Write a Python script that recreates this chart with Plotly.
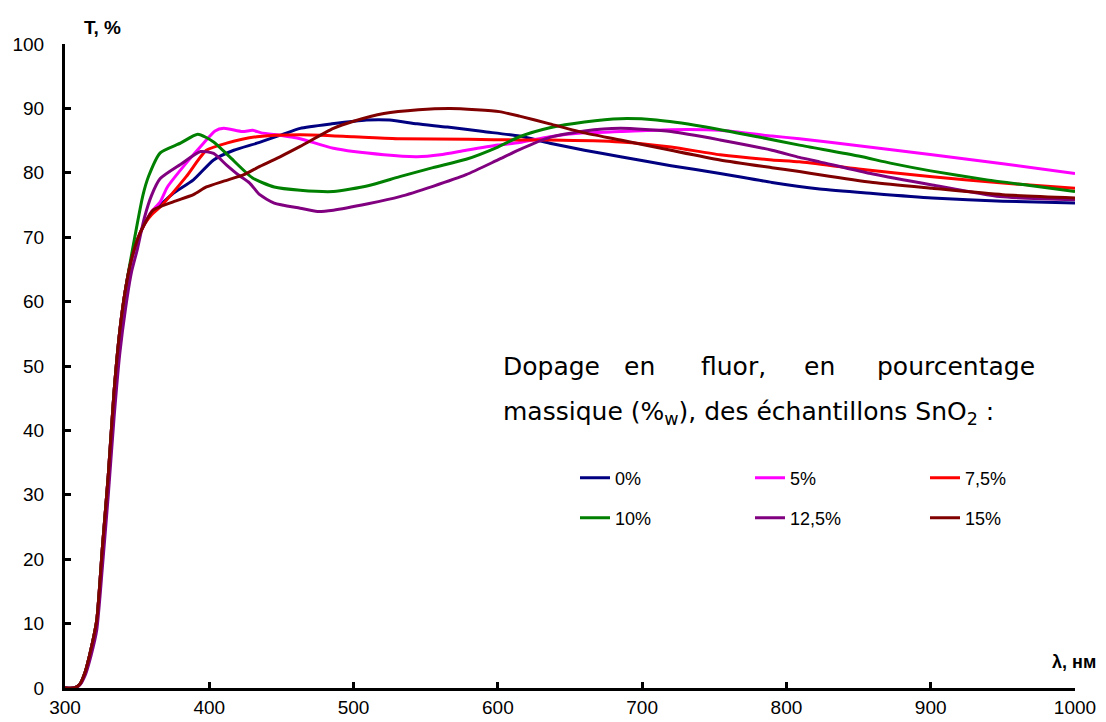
import plotly.graph_objects as go

# ---- data (wavelength nm, transmittance %) ----
rise_wl = [300, 306, 310, 314, 318, 322, 326, 330, 334, 338, 342, 346, 350]
rise_T = [0, 0, 0.5, 2.5, 6, 10.5, 22, 33, 46, 55.5, 62, 66.5, 69.5]

wl_0 = [355, 360, 366, 375, 389, 403, 417, 433, 450, 463, 485, 509, 525, 544, 565, 590, 615, 636,
        660, 685, 720, 754, 790, 823, 860, 901, 950, 1000]
T_0 = [72, 73.8, 75, 76.8, 78.9, 82, 83.5, 84.6, 85.9, 86.9, 87.6, 88.2, 88.2, 87.6, 87.1, 86.4, 85.7, 84.6,
       83.5, 82.5, 81.1, 79.9, 78.5, 77.5, 76.8, 76.1, 75.6, 75.3]

wl_5 = [355, 360, 366, 371, 384, 396, 404, 410, 423, 430, 436, 450, 463, 486, 521, 544, 560, 578, 600,
        615, 636, 660, 685, 720, 754, 790, 809, 850, 901, 950, 1000]
T_5 = [72, 74, 75.5, 77.8, 81.5, 84.6, 86.5, 86.9, 86.4, 86.6, 86.2, 85.8, 85.3, 83.8, 82.8, 82.5, 82.8, 83.5, 84.3,
       84.7, 85.6, 86.2, 86.4, 86.7, 86.6, 85.7, 85.3, 84.2, 82.8, 81.4, 79.9]

wl_75 = [355, 360, 366, 384, 398, 412, 433, 463, 500, 532, 580, 615, 636, 685, 720, 754, 790, 809, 850,
         901, 950, 1000]
T_75 = [72, 73.5, 74.7, 79.4, 83.5, 84.6, 85.6, 85.9, 85.6, 85.3, 85.2, 85.1, 85.1, 84.8, 84.0, 82.8, 82.0, 81.7, 80.6,
        79.4, 78.4, 77.6]

wl_10 = [354, 358, 366, 380, 392, 403, 414, 430, 445, 463, 486, 510, 532, 555, 578, 600, 615, 636, 660, 685,
         710, 742, 780, 809, 850, 872, 900, 939, 970, 1000]
T_10 = [76.5, 79.5, 83.1, 84.6, 86.0, 84.8, 82.5, 79.2, 77.8, 77.3, 77.1, 78.0, 79.4, 80.8, 82.1, 84.0, 85.6, 87.0,
        87.9, 88.4, 88.2, 87.2, 85.6, 84.3, 82.6, 81.5, 80.3, 78.9, 78.0, 77.1]

wl_125 = [355, 360, 366, 380, 394, 403, 412, 420, 428, 435, 445, 463, 475, 486, 510, 532, 555, 578, 600, 615,
          636, 660, 685, 720, 754, 790, 809, 823, 860, 901, 948, 1000]
T_125 = [73, 76.5, 79.1, 81.3, 83.3, 83.0, 81.2, 79.7, 78.4, 76.6, 75.3, 74.5, 74.0, 74.2, 75.2, 76.3, 77.9, 79.7, 82.0,
         83.6, 85.5, 86.5, 86.9, 86.4, 85.1, 83.5, 82.4, 81.7, 79.8, 78.1, 76.3, 75.8]
rise_T_125 = [0, 0, 0.4, 2, 5, 9, 19, 30, 42, 52, 59, 64.5, 68]

wl_15 = [355, 361, 375, 389, 398, 410, 424, 435, 450, 463, 486, 500, 521, 545, 567, 585, 601, 615, 636, 660,
         685, 720, 754, 790, 809, 823, 860, 901, 950, 1000]
T_15 = [72, 74.2, 75.5, 76.6, 77.8, 78.7, 79.7, 81.0, 82.6, 84.1, 86.9, 88.0, 89.2, 89.8, 90.0, 89.8, 89.5, 88.8,
        87.6, 86.2, 85.1, 83.5, 82.0, 80.8, 80.2, 79.7, 78.5, 77.6, 76.6, 76.1]

series_names = ["0%", "5%", "7,5%", "10%", "12,5%", "15%"]
series_colors = ["#000080", "#FF00FF", "#FF0000", "#008000", "#800080", "#800000"]
series_wl = [wl_0, wl_5, wl_75, wl_10, wl_125, wl_15]
series_T = [T_0, T_5, T_75, T_10, T_125, T_15]
series_rise = [rise_T, rise_T, rise_T, rise_T[:-2], rise_T_125, rise_T]

x_ticks = [300, 400, 500, 600, 700, 800, 900, 1000]
y_ticks = [0, 10, 20, 30, 40, 50, 60, 70, 80, 90, 100]

# ---- figure ----
# page body has an 8px margin; the figure is sized so it fits the 1106x722 window
OFF = 8
W, H = 1106 - OFF, 722 - OFF
ml, mr, mt, mb = 65 - OFF, 31, 44 - OFF, 34
pw, ph = W - ml - mr, H - mt - mb

def px_x(p):  # window pixel -> paper fraction
    return (p - OFF - ml) / pw

def px_y(p):
    return (H - mb - (p - OFF)) / ph

fig = go.Figure()
for i, (name, col, wl, T, rT) in enumerate(zip(series_names, series_colors, series_wl, series_T, series_rise)):
    xs = rise_wl[:len(rT)] + wl
    ys = rT + T
    fig.add_trace(go.Scatter(
        x=xs, y=ys, mode="lines", name=name,
        line=dict(color=col, width=3, shape="spline", smoothing=0.6),
        legend="legend" if i < 3 else "legend2",
    ))

legend_common = dict(
    orientation="h", entrywidth=130, entrywidthmode="pixels",
    font=dict(family="Liberation Sans, Arial", size=18, color="#000"),
    bgcolor="rgba(0,0,0,0)", borderwidth=0, itemwidth=30,
    xanchor="left", yanchor="middle", tracegroupgap=0,
)

fig.update_layout(
    width=W, height=H,
    margin=dict(l=ml, r=mr, t=mt, b=mb, autoexpand=False),
    paper_bgcolor="white", plot_bgcolor="white",
    showlegend=True,
    legend=dict(x=px_x(575), y=px_y(478), **legend_common),
    legend2=dict(x=px_x(575), y=px_y(518), **legend_common),
    xaxis=dict(
        range=[300, 1000], tickvals=x_ticks, ticktext=[str(v) for v in x_ticks],
        showgrid=False, zeroline=False, showline=True, linecolor="black", linewidth=3,
        ticks="inside", ticklen=6, tickwidth=3, tickcolor="black", automargin=False,
        tickfont=dict(family="Liberation Sans, Arial", size=19, color="black"),
    ),
    yaxis=dict(
        range=[0, 100], tickvals=y_ticks, ticktext=[str(v) for v in y_ticks],
        showgrid=False, zeroline=False, showline=True, linecolor="black", linewidth=3,
        ticks="inside", ticklen=6, tickwidth=3, tickcolor="black", ticklabelstandoff=14,
        automargin=False,
        tickfont=dict(family="Liberation Sans, Arial", size=19, color="black"),
    ),
)

txt_font = dict(family="DejaVu Sans", size=25, color="black")
ann = []
# axis titles
ann.append(dict(text="<b>T, %</b>", x=px_x(82), y=px_y(28), xref="paper", yref="paper",
                xanchor="left", yanchor="middle", showarrow=False,
                font=dict(family="Liberation Sans, Arial", size=19, color="black")))
ann.append(dict(text="<b>λ, нм</b>", x=px_x(1050), y=px_y(662), xref="paper", yref="paper",
                xanchor="left", yanchor="middle", showarrow=False,
                font=dict(family="Liberation Sans, Arial", size=18, color="black")))
# justified first line of the note
words = [("Dopage", 501, "left"), ("en", 639, "center"), ("fluor,", 733, "center"),
         ("en", 819, "center"), ("pourcentage", 1037, "right")]
for w, xp, anc in words:
    ann.append(dict(text=w, x=px_x(xp), y=px_y(366), xref="paper", yref="paper",
                    xanchor=anc, yanchor="middle", showarrow=False, font=txt_font))
ann.append(dict(text="massique (%<sub>w</sub>), des échantillons SnO<sub>2</sub> :",
                x=px_x(501), y=px_y(413), xref="paper", yref="paper",
                xanchor="left", yanchor="middle", showarrow=False, font=txt_font))
fig.update_layout(annotations=ann)

fig.write_html("out.html")
